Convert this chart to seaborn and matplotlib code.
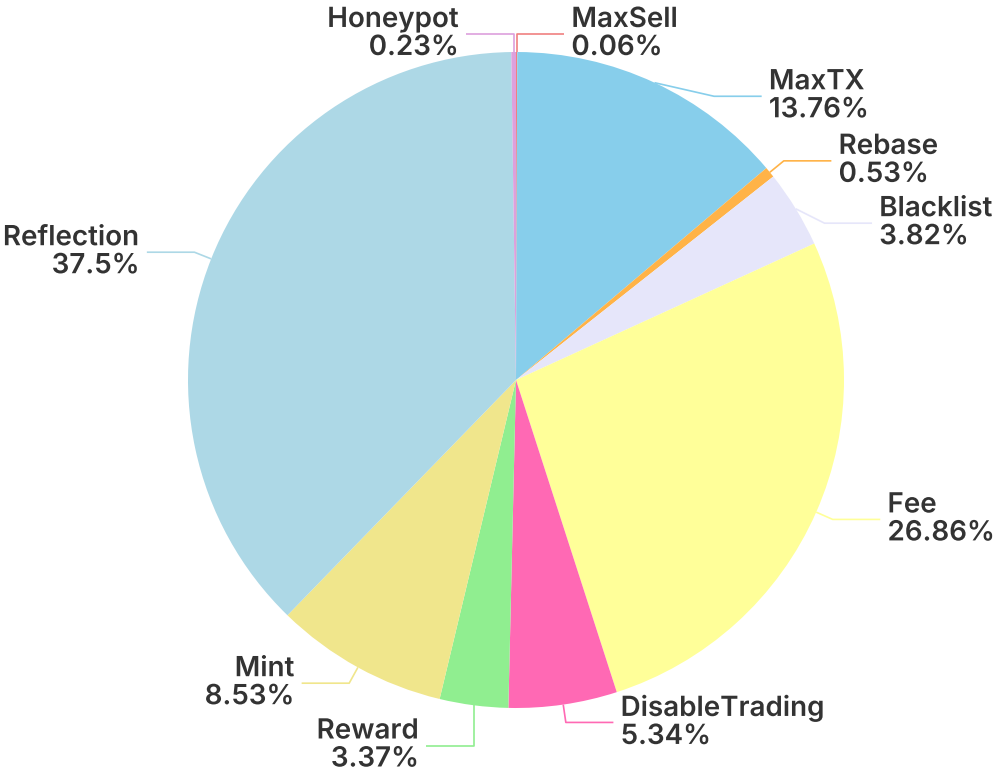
import numpy as np
import matplotlib
matplotlib.use('Agg')
import matplotlib.pyplot as plt
import matplotlib.patheffects as pe
import seaborn as sns

# slices, clockwise from 12 o'clock
labels = ['MaxSell', 'MaxTX', 'Rebase', 'Blacklist', 'Fee', 'DisableTrading',
          'Reward', 'Mint', 'Reflection', 'Honeypot']
shares = [0.06, 13.76, 0.53, 3.82, 26.86, 5.34, 3.37, 8.53, 37.5, 0.23]
colors = ['#F08080', '#87CEEB', '#FFB347', '#E6E6FA', '#FFFF99', '#FF69B4',
          '#90EE90', '#F0E68C', '#ADD8E6', '#DDA0DD']

sns.set_theme(style='white')
plt.rcParams['font.family'] = ['Inter', 'DejaVu Sans']

fig = plt.figure(figsize=(9.97, 7.8), dpi=100)
ax = fig.add_axes([0, 0, 1, 1])

wedges, _ = ax.pie(shares, colors=colors, startangle=90, counterclock=False,
                   radius=1, wedgeprops=dict(linewidth=0))

# pie radius ~328 px, centre at (516, 380) from top-left
R = 328
ax.set_xlim(-516 / R, (997 - 516) / R)
ax.set_ylim(-(780 - 380) / R, 380 / R)
ax.set_aspect('auto')
ax.axis('off')

r_elbow = 1.055
seg = 0.145
gap = 0.19

# label anchors: edge point, side, natural height
items = []
for w, lab, val, col in zip(wedges, labels, shares, colors):
    ang = np.deg2rad((w.theta1 + w.theta2) / 2)
    x0, y0 = np.cos(ang), np.sin(ang)
    side = 1 if x0 > 0 else -1
    if lab == 'MaxSell':
        side = 1
    if lab == 'Honeypot':
        side = -1
    items.append(dict(lab=lab, val=val, col=col, x0=x0, y0=y0, side=side,
                      y=r_elbow * y0))

# push labels down so they don't overlap on each side
for s in (1, -1):
    grp = sorted([it for it in items if it['side'] == s], key=lambda d: -d['y'])
    for prev, cur in zip(grp, grp[1:]):
        cur['y'] = min(cur['y'], prev['y'] - gap)

outline = [pe.withStroke(linewidth=3, foreground='white')]
for it in items:
    s, y1 = it['side'], it['y']
    if abs(it['x0']) < 0.03 or abs(y1) >= r_elbow:
        x1 = it['x0']
    else:
        x1 = s * np.sqrt(r_elbow ** 2 - y1 ** 2)
    x2 = x1 + s * seg
    ax.plot([it['x0'], x1, x2], [it['y0'], y1, y1], color=it['col'], lw=1.2,
            solid_capstyle='butt')
    ax.text(x2 + s * 0.022, y1, f"{it['lab']}\n{it['val']:g}%",
            ha='left' if s > 0 else 'right', va='center',
            fontsize=20, fontweight='semibold', color='#333333',
            linespacing=1.1, multialignment='left' if s > 0 else 'right',
            path_effects=outline)

fig.savefig('out.png', dpi=100, facecolor='white')
